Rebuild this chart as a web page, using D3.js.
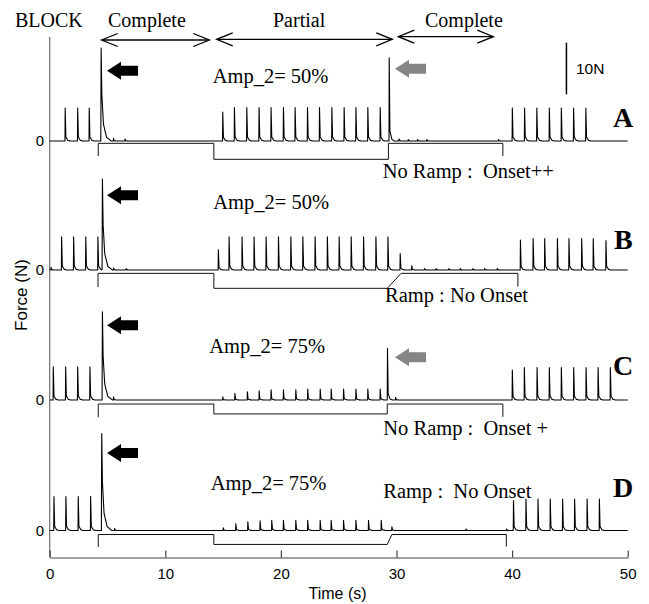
<!DOCTYPE html>
<html><head><meta charset="utf-8">
<script src="https://cdn.jsdelivr.net/npm/d3@7"></script>
<style>body{margin:0;background:#fff}svg{display:block}</style>
</head><body>
<svg id="chart" width="649" height="604"></svg>
<script>
// ---------------- DATA ----------------
const panelNames = ["A", "B", "C", "D"];
const xTicks = [0, 10, 20, 30, 40, 50];
const yTickLabel = "0";
const blockLabels = ["Complete", "Partial", "Complete"];
const ampLabels = ["Amp_2= 50%", "Amp_2= 50%", "Amp_2= 75%", "Amp_2= 75%"];
const noteLabels = ["No Ramp :  Onset++", "Ramp : No Onset", "No Ramp :  Onset +", "Ramp :  No Onset"];

// twitches [time s, force N]
const twitchA = [[1.32,6.4],[2.4,6.4],[3.4,6.4],[5.5,0.5],[6.5,0.4],
  [14.95,5.6],[15.96,6.5],[17.03,6.5],[18.09,6.5],[19.13,6.5],[20.2,6.5],[21.21,6.5],[22.28,6.5],[23.32,6.5],[24.39,6.5],[25.45,6.5],[26.47,6.5],[27.5,6.5],[28.57,6.5],
  [29.35,16.1],[30.2,0.4],[31.0,0.3],[31.8,0.3],[32.6,0.3],[38.8,0.3],
  [40.0,6.4],[41.06,6.4],[42.12,6.4],[43.2,6.4],[44.24,6.4],[45.3,6.4],[46.36,6.4]];
const twitchB = [[0.1,0.5],[1.01,6.45],[2.05,6.45],[3.1,6.45],[4.15,6.45],[5.5,0.4],[6.6,0.3],
  [14.57,3.9],[15.5,6.45],[16.62,6.45],[17.66,6.45],[18.7,6.45],[19.77,6.45],[20.84,6.45],[21.88,6.45],[22.94,6.45],[24.0,6.45],[25.02,6.45],[26.06,6.45],[27.13,6.45],[28.2,6.45],[29.24,6.45],
  [30.3,3.2],[31.3,0.8],[32.4,0.3],[33.4,0.3],[34.5,0.3],[35.5,0.3],[36.6,0.3],[37.6,0.3],[38.7,0.3],
  [40.7,5.8],[41.8,6.1],[42.8,6.1],[43.9,6.1],[44.9,6.1],[46.0,6.1],[47.0,6.1],[48.1,5.7]];
const twitchC = [[0.29,6.45],[1.36,6.45],[2.4,6.45],[3.46,6.45],[5.5,0.6],
  [14.95,0.6],[16.0,1.3],[17.08,1.6],[18.1,1.8],[19.13,2.0],[20.2,2.0],[21.27,2.0],[22.3,2.1],[23.38,2.1],[24.33,2.1],[25.4,2.1],[26.47,2.1],[27.5,2.1],[28.57,2.1],
  [29.2,10.0],[29.9,0.5],
  [40.0,5.8],[41.04,6.3],[42.14,6.3],[43.2,6.3],[44.24,6.3],[45.31,6.3],[46.38,6.3],[47.42,6.3],[48.48,6.3]];
const twitchD = [[0.35,6.6],[1.38,6.6],[2.45,6.6],[3.52,6.6],[5.6,0.4],
  [15.0,0.5],[16.08,1.3],[17.12,1.7],[18.18,1.9],[19.19,2.0],[20.2,2.0],[21.27,2.0],[22.3,2.0],[23.38,2.0],[24.33,2.0],[25.4,2.0],[26.47,2.0],[27.56,2.0],[28.66,2.0],[29.58,0.7],
  [36.0,0.3],[39.5,0.3],
  [40.1,5.8],[41.18,6.1],[42.22,6.1],[43.28,6.1],[44.35,6.1],[45.39,6.1],[46.47,6.1],[47.53,6.1]];
// large onset responses [time s, force N]
const onsetA = [[4.42,18.0]];
const onsetB = [[4.53,17.6]];
const onsetC = [[4.53,17.1]];
const onsetD = [[4.47,18.8]];
// block indicator steps [time s, level N]
const blockA = [[4.2,-2.9],[4.2,-0.45],[14.2,-0.45],[14.2,-3.55],[29.3,-3.55],[29.3,-0.45],[39.2,-0.45],[39.2,-2.9]];
const blockB = [[4.18,-3.3],[4.18,-0.65],[14.2,-0.65],[14.2,-3.55],[29.2,-3.55],[30.4,-0.65],[40.5,-0.65],[40.5,-3.2]];
const blockC = [[4.2,-3.35],[4.2,-0.78],[14.2,-0.78],[14.2,-2.7],[29.2,-2.7],[29.2,-0.78],[39.2,-0.78],[39.2,-3.25]];
const blockD = [[4.2,-3.2],[4.2,-0.78],[14.2,-0.78],[14.2,-2.7],[29.2,-2.7],[29.6,-0.78],[39.5,-0.78],[39.5,-3.1]];
// arrows [tip time s, force N]
const blackArrows = [[4.96,13.6],[4.96,14.5],[4.96,14.5],[4.96,15.0]];
const grayArrows = [[29.87,14.0],null,[29.87,8.3],null];
const scaleBar = {t: 44.7, from: 9.05, len: 10, label: "10N"};

const twitches = [twitchA, twitchB, twitchC, twitchD];
const onsets = [onsetA, onsetB, onsetC, onsetD];
const blocks = [blockA, blockB, blockC, blockD];

// ---------------- LAYOUT ----------------
const panelBase = [141, 270, 400, 530.5];
const pxPer10N = 51.6;
const serif = "'Liberation Serif','Times New Roman',serif";
const sans = "'Liberation Sans',Arial,sans-serif";

const svg = d3.select("#chart");
const x = d3.scaleLinear().domain([0, 50]).range([49.7, 627.7]);
const yScales = panelBase.map(b => d3.scaleLinear().domain([0, 10]).range([b, b - pxPer10N]));

// kernels (shape of a single twitch / onset response)
const kTwitch = d3.scaleLinear().domain([0, 0.02, 0.08, 0.25, 0.45]).range([0, 1, 0.12, 0.02, 0]).clamp(true);
const kOnset = d3.scaleLinear().domain([0, 0.03, 0.09, 0.23, 0.5, 0.9]).range([0, 1, 0.5, 0.18, 0.04, 0]).clamp(true);

function buildTrace(tw, on) {
  const ts = new Set();
  for (let i = 0; i <= 10000; i++) ts.add(+(i * 0.005).toFixed(3));
  tw.forEach(([t]) => kTwitch.domain().forEach(d => ts.add(+(t + d).toFixed(4))));
  on.forEach(([t]) => kOnset.domain().forEach(d => ts.add(+(t + d).toFixed(4))));
  const arr = Array.from(ts).filter(t => t >= 0 && t <= 50).sort((a, b) => a - b);
  return arr.map(t => {
    let f = 0;
    tw.forEach(([ti, a]) => { f += a * kTwitch(t - ti); });
    on.forEach(([ti, a]) => { f += a * kOnset(t - ti); });
    return [t, f];
  });
}

// axes
svg.append("line").attr("x1", x(0)).attr("x2", x(0)).attr("y1", 37).attr("y2", 557.5)
  .attr("stroke", "#6e6e6e").attr("stroke-width", 1.2);
const xAxis = d3.axisBottom(x).tickValues(xTicks).tickSizeInner(-7).tickSizeOuter(0).tickPadding(11);
const gx = svg.append("g").attr("transform", "translate(0,557.5)").call(xAxis);
gx.select(".domain").attr("stroke", "#444").attr("stroke-width", 1.2);
gx.selectAll(".tick line").attr("stroke", "#444").attr("stroke-width", 1.2);
gx.selectAll("text").attr("font-family", sans).attr("font-size", 15).attr("fill", "#000");
svg.append("text").attr("x", 337.5).attr("y", 599).attr("text-anchor", "middle")
  .attr("font-family", sans).attr("font-size", 16).text("Time (s)");
svg.append("text").attr("transform", "translate(27,295) rotate(-90)").attr("text-anchor", "middle")
  .attr("font-family", sans).attr("font-size", 17).text("Force (N)");

// header
svg.append("text").attr("x", 15).attr("y", 26.5).attr("font-family", serif).attr("font-size", 20).text("BLOCK");
const hdrX = [108, 273, 425];
blockLabels.forEach((l, i) => svg.append("text").attr("x", hdrX[i]).attr("y", 27).attr("font-family", serif).attr("font-size", 20).text(l));
const hdrArrows = [[101.7, 209.3, 40], [216.7, 392.3, 39.3], [398.3, 493.3, 36.7]];
hdrArrows.forEach(([a, b, y]) => {
  const g = svg.append("g").attr("stroke", "#000").attr("stroke-width", 1.3).attr("fill", "none");
  g.append("line").attr("x1", a).attr("x2", b).attr("y1", y).attr("y2", y);
  g.append("path").attr("d", `M${a + 16},${y - 6.5}L${a},${y}L${a + 16},${y + 6.5}`);
  g.append("path").attr("d", `M${b - 16},${y - 6.5}L${b},${y}L${b - 16},${y + 6.5}`);
});

const line = d3.line();
const ampPos = [[212.7, 83.3], [213.3, 209.3], [209.3, 352.7], [210.7, 490]];
const notePos = [[382.7, 178.3], [385, 301.7], [383.3, 435], [383.3, 498.3]];
const letterPos = [[613, 126.7], [614, 249], [613, 374.5], [613, 497.3]];

function arrowPath(tx, ty) {
  return `M${tx},${ty}L${tx + 14},${ty - 9}L${tx + 14},${ty - 5}L${tx + 31},${ty - 5}L${tx + 31},${ty + 5}L${tx + 14},${ty + 5}L${tx + 14},${ty + 9}Z`;
}

panelNames.forEach((name, i) => {
  const y = yScales[i];
  const g = svg.append("g");
  g.append("text").attr("x", 44).attr("y", y(0)).attr("dy", "0.36em").attr("text-anchor", "end")
    .attr("font-family", sans).attr("font-size", 15).text(yTickLabel);
  g.append("path").attr("d", line(blocks[i].map(([t, v]) => [x(t), y(v)])))
    .attr("fill", "none").attr("stroke", "#111").attr("stroke-width", 1);
  const tr = buildTrace(twitches[i], onsets[i]);
  g.append("path").attr("d", line(tr.map(([t, f]) => [x(t), y(f)])))
    .attr("fill", "none").attr("stroke", "#000").attr("stroke-width", 1.1).attr("stroke-linejoin", "round");
  const ba = blackArrows[i];
  g.append("path").attr("d", arrowPath(x(ba[0]), y(ba[1]))).attr("fill", "#000");
  if (grayArrows[i]) {
    const ga = grayArrows[i];
    g.append("path").attr("d", arrowPath(x(ga[0]), y(ga[1]))).attr("fill", "#858585");
  }
  g.append("text").attr("x", ampPos[i][0]).attr("y", ampPos[i][1]).attr("font-family", serif).attr("font-size", 20.5).text(ampLabels[i]);
  g.append("text").attr("x", notePos[i][0]).attr("y", notePos[i][1]).attr("font-family", serif).attr("font-size", 20.5)
    .style("white-space", "pre").text(noteLabels[i]);
  g.append("text").attr("x", letterPos[i][0]).attr("y", letterPos[i][1]).attr("font-family", serif).attr("font-size", 28)
    .attr("font-weight", "bold").text(name);
});

// scale bar (panel A)
svg.append("line").attr("x1", x(scaleBar.t)).attr("x2", x(scaleBar.t))
  .attr("y1", yScales[0](scaleBar.from)).attr("y2", yScales[0](scaleBar.from + scaleBar.len))
  .attr("stroke", "#000").attr("stroke-width", 1.5);
svg.append("text").attr("x", x(scaleBar.t) + 9.5).attr("y", 74).attr("font-family", sans).attr("font-size", 15.5).text(scaleBar.label);
</script>
</body></html>
